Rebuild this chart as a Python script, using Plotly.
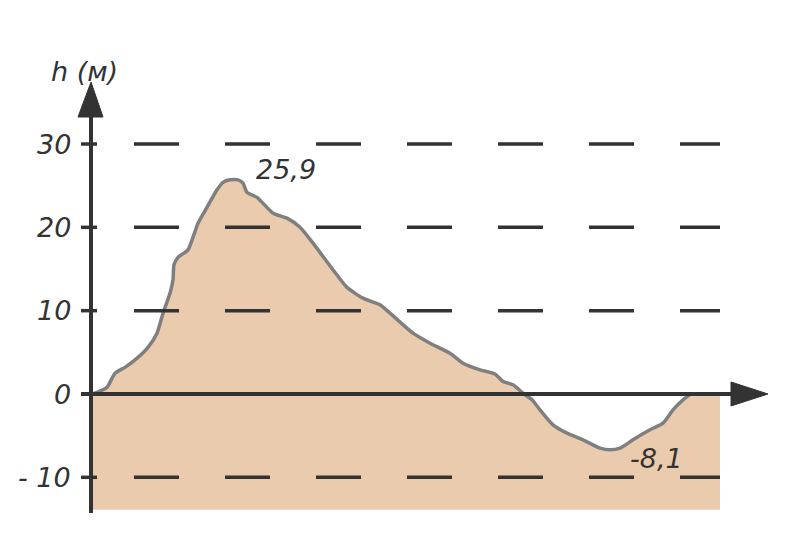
import plotly.graph_objects as go

# ---- data (distance along profile, height in metres) ----
dist = [0, 6, 16, 24, 34, 47, 57, 66, 72, 79, 82, 83, 87, 97, 107, 116, 126, 132, 139, 147,
        152, 156, 166, 182, 196, 209, 222, 242, 256, 272, 289, 299, 322, 339, 359, 372, 389,
        404, 412, 422, 432, 441, 449, 462, 476, 492, 509, 519, 529, 542, 559, 572, 582, 592, 601]
height = [0, 0.2, 0.8, 2.5, 3.2, 4.4, 5.6, 7.3, 9.7, 12.1, 13.7, 15.5, 16.4, 17.3, 20.5, 22.4,
          24.5, 25.4, 25.7, 25.7, 25.3, 24.2, 23.6, 21.7, 21.1, 20.0, 18.1, 14.9, 12.8, 11.5,
          10.7, 9.7, 7.3, 6.1, 4.9, 3.7, 2.9, 2.4, 1.5, 1.1, 0.1, -0.7, -1.9, -3.7, -4.7, -5.5,
          -6.5, -6.7, -6.5, -5.5, -4.3, -3.5, -1.9, -0.7, 0.1]
ground_end = 629
ground_bottom = -13.9
y_ticks = [30, 20, 10, 0, -10]
y_tick_labels = ["30", "20", "10", "0", "- 10"]
grid_levels = [30, 20, 10, -10]
max_label = "25,9"
min_label = "-8,1"
axis_title = "h (м)"

# ---- scales (pixel geometry; page body has an 8px margin) ----
W, H = 792, 546
X0PX, Y0PX = 91 - 8, 394 - 8
PPU = 8.333  # pixels per metre
xr = [-X0PX, W - X0PX]
yr = [-(H - Y0PX) / PPU, Y0PX / PPU]
def py(v):  # convert pixels to y units
    return v / PPU

DARK = "#333333"
FILL = "#EBCBAE"
LINE = "#7f7f7f"
FONT = dict(family="DejaVu Sans", size=27, color=DARK)

fig = go.Figure()

# ground fill
fig.add_trace(go.Scatter(
    x=dist + [ground_end, ground_end, 0],
    y=height + [0, ground_bottom, ground_bottom],
    fill="toself", fillcolor=FILL, line=dict(width=0), mode="lines",
    hoverinfo="skip", showlegend=False))

# profile line
fig.add_trace(go.Scatter(x=dist, y=height, mode="lines",
                         line=dict(color=LINE, width=3.5, shape="spline", smoothing=0.6),
                         hoverinfo="skip", showlegend=False))

shapes = []
# dashed grid lines
for g in grid_levels:
    shapes.append(dict(type="line", xref="x", yref="y", x0=43, x1=ground_end, y0=g, y1=g,
                       line=dict(color=DARK, width=3.5, dash="45px,46px"), layer="above"))
# tick marks
for t in y_ticks:
    shapes.append(dict(type="line", xref="x", yref="y", x0=-10, x1=6, y0=t, y1=t,
                       line=dict(color=DARK, width=3.5), layer="above"))
# axes
shapes.append(dict(type="line", xref="x", yref="y", x0=-10, x1=642, y0=0, y1=0,
                   line=dict(color=DARK, width=4), layer="above"))
shapes.append(dict(type="line", xref="x", yref="y", x0=0, x1=0, y0=py(-119), y1=py(278),
                   line=dict(color=DARK, width=4), layer="above"))
# arrowheads
shapes.append(dict(type="path", xref="x", yref="y",
                   path=f"M 640 {py(12)} L 677 0 L 640 {py(-12)} Z",
                   fillcolor=DARK, line=dict(color=DARK, width=1), layer="above"))
shapes.append(dict(type="path", xref="x", yref="y",
                   path=f"M -13 {py(277)} L 0 {py(312)} L 12 {py(277)} Z",
                   fillcolor=DARK, line=dict(color=DARK, width=1), layer="above"))

ann = []
for t, lab in zip(y_ticks, y_tick_labels):
    ann.append(dict(x=-18, y=t, text=f"<i>{lab}</i>", showarrow=False, xanchor="right",
                    yanchor="middle", font=FONT))
ann.append(dict(x=-7, y=py(323), text=f"<i>{axis_title}</i>", showarrow=False,
                xanchor="center", yanchor="middle", font=FONT))
ann.append(dict(x=195, y=py(225), text=f"<i>{max_label}</i>", showarrow=False,
                xanchor="center", yanchor="middle", font=FONT))
ann.append(dict(x=565, y=py(-64), text=f"<i>{min_label}</i>", showarrow=False,
                xanchor="center", yanchor="middle", font=FONT))

fig.update_layout(
    shapes=shapes,
    annotations=ann,
    width=W, height=H, autosize=False,
    margin=dict(l=0, r=0, t=0, b=0),
    paper_bgcolor="white", plot_bgcolor="white",
    xaxis=dict(range=xr, visible=False, fixedrange=True),
    yaxis=dict(range=yr, visible=False, fixedrange=True),
    showlegend=False,
)

fig.write_html("out.html", config={"displayModeBar": False})
